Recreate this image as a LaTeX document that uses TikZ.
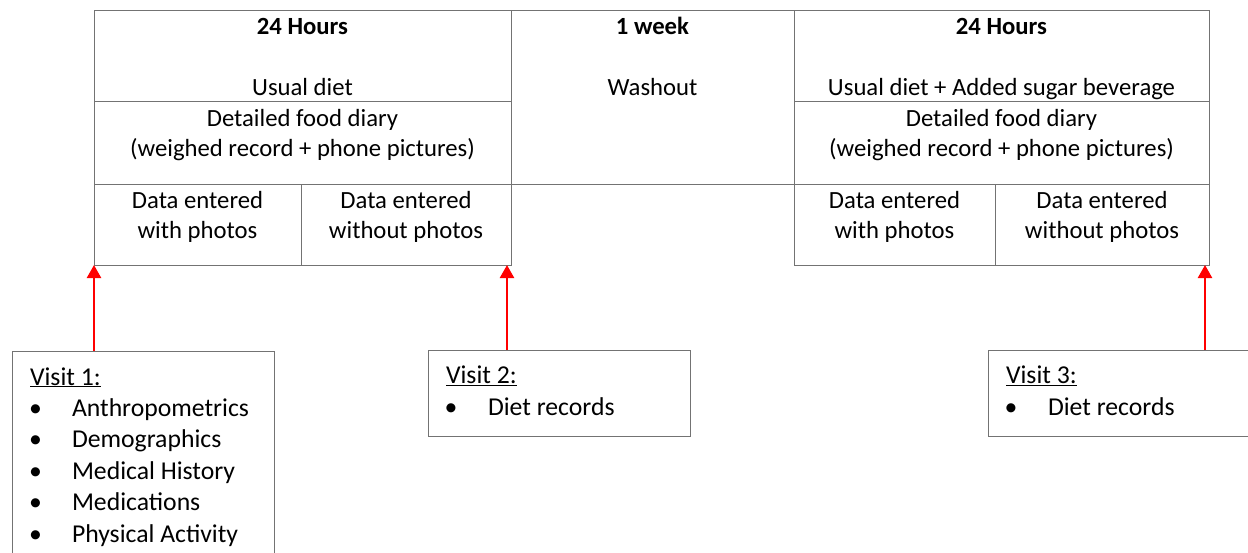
\documentclass[tikz,border=0pt]{standalone}
\usepackage{fontspec}
\setmainfont{Carlito}
\usetikzlibrary{arrows.meta}
\definecolor{linegray}{gray}{0.45}
\begin{document}
\begin{tikzpicture}[x=1pt,y=-1pt,
  cell/.style={draw=linegray, line width=1pt, inner sep=0pt, outer sep=0pt, rectangle},
  txt/.style={inner sep=0pt, outer sep=0pt, font=\fontsize{24.7}{30}\selectfont, anchor=base},
  vtxt/.style={txt, font=\fontsize{25.7}{31.5}\selectfont},
  ltxt/.style={vtxt, anchor=base west},
  redarr/.style={draw=red, line width=2.4pt, -{Triangle[length=13pt,width=14pt]}}]
\useasboundingbox[fill=white] (0,0) rectangle (1248,552);
% table cells
\node[cell, minimum width=417pt, minimum height=91pt] (L1) at (302.5,55.5) {};
\node[cell, minimum width=417pt, minimum height=83pt] (L2) at (302.5,142.5) {};
\node[cell, minimum width=207pt, minimum height=81pt] (L3a) at (197.5,224.5) {};
\node[cell, minimum width=210pt, minimum height=81pt] (L3b) at (406,224.5) {};
\node[cell, minimum width=283pt, minimum height=174pt] (M) at (652.5,97) {};
\node[cell, minimum width=415pt, minimum height=91pt] (R1) at (1001.5,55.5) {};
\node[cell, minimum width=415pt, minimum height=83pt] (R2) at (1001.5,142.5) {};
\node[cell, minimum width=201pt, minimum height=81pt] (R3a) at (894.5,224.5) {};
\node[cell, minimum width=214pt, minimum height=81pt] (R3b) at (1102,224.5) {};
% table texts
\node[txt] (l1a) at (302.5,34) {\bfseries 24 Hours};
\node[txt] (l1b) at (302.5,95) {Usual diet};
\node[txt] (l2a) at (302.5,126) {Detailed food diary};
\node[txt] (l2b) at (302.5,156) {(weighed record + phone pictures)};
\node[txt] (l3a1) at (197.5,208) {Data entered};
\node[txt] (l3a2) at (197.5,238) {with photos};
\node[txt] (l3b1) at (406,208) {Data entered};
\node[txt] (l3b2) at (406,238) {without photos};
\node[txt] (m1) at (652.5,34) {\bfseries 1 week};
\node[txt] (m2) at (652.5,95) {Washout};
\node[txt] (r1a) at (1001.5,34) {\bfseries 24 Hours};
\node[txt] (r1b) at (1001.5,95) {Usual diet + Added sugar beverage};
\node[txt] (r2a) at (1001.5,126) {Detailed food diary};
\node[txt] (r2b) at (1001.5,156) {(weighed record + phone pictures)};
\node[txt] (r3a1) at (894.5,208) {Data entered};
\node[txt] (r3a2) at (894.5,238) {with photos};
\node[txt] (r3b1) at (1102,208) {Data entered};
\node[txt] (r3b2) at (1102,238) {without photos};
% visit boxes
\node[cell, minimum width=262pt, minimum height=229pt] (v1) at (143,465.5) {};
\node[cell, minimum width=262pt, minimum height=86pt] (v2) at (559,393) {};
\node[cell, minimum width=262pt, minimum height=86pt] (v3) at (1119,393) {};
% visit texts
\node[ltxt] (v1t) at (30,385) {\underline{Visit 1:}};
\foreach \y/\t [count=\i] in {416/Anthropometrics,447.5/Demographics,479/Medical History,510.5/Medications,542/Physical Activity}{
  \node[vtxt] (v1b\i) at (35.5,\y) {•};
  \node[ltxt] (v1i\i) at (72,\y) {\t};
}
\node[ltxt] (v2t) at (446,383.5) {\underline{Visit 2:}};
\node[vtxt] (v2b) at (451,415.5) {•};
\node[ltxt] (v2i) at (488,415.5) {Diet records};
\node[ltxt] (v3t) at (1006,383.5) {\underline{Visit 3:}};
\node[vtxt] (v3b) at (1011,415.5) {•};
\node[ltxt] (v3i) at (1048,415.5) {Diet records};
% arrows
\draw[redarr] (L3a.south west |- v1.north) -- (L3a.south west);
\draw[redarr] ([xshift=-4pt]L3b.south east |- v2.north) -- ([xshift=-4pt]L3b.south east);
\draw[redarr] ([xshift=-4pt]R3b.south east |- v3.north) -- ([xshift=-4pt]R3b.south east);
\end{tikzpicture}
\end{document}
